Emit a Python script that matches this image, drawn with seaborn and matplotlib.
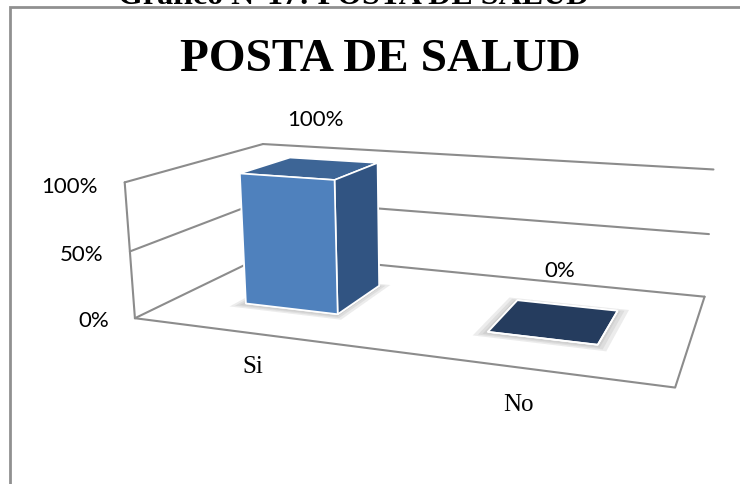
import numpy as np
import pandas as pd
import seaborn as sns
import matplotlib.pyplot as plt
from matplotlib.patches import Rectangle

# data
categorias = ["Si", "No"]
porcentajes = [1.0, 0.0]
ticks = [0.0, 0.5, 1.0]
tick_labels = ["0%", "50%", "100%"]

df = pd.DataFrame({"respuesta": categorias, "valor": porcentajes})

sns.set_theme(style="white")
plt.rcParams["font.family"] = ["Lato", "DejaVu Sans"]
plt.rcParams["text.color"] = "black"

# excel-ish blues: front, top, side, flat top
azul = sns.color_palette(["#4F81BD", "#3D6596", "#315482", "#253C5E"])
gris = "#8C8C8C"

fig = plt.figure(figsize=(7.4, 4.84), dpi=100)
ax = fig.add_axes([53 / 740, -7 / 484, 1, 1], projection="3d", computed_zorder=False)
ax.set_proj_type("persp", focal_length=0.38)
ax.view_init(elev=14, azim=-70)
ax.set_box_aspect((4.6, 2.35, 1.2), zoom=1.2)

n = len(df)
xs = np.arange(n) + 0.5
ax.set_xlim(0, n)
ax.set_ylim(0, 1)
ax.set_zlim(0, 1)
ax.set_axis_off()

# walls and floor
lk = dict(color=gris, lw=1.5, zorder=1, clip_on=False)
for z in ticks:
    ax.plot([0, 0], [0, 1], [z, z], **lk)
    ax.plot([0, n], [1, 1], [z, z], **lk)
ax.plot([0, 0], [0, 0], [0, ticks[-1]], **lk)
ax.plot([0, n, n], [0, 0, 1], [0, 0, 0], **lk)

w = 0.4
y0 = 0.5 - w / 2

# soft shadow on the floor
for e in [0.04, 0.025, 0.012]:
    sombra = ax.bar3d(xs - w / 2 - e, np.full(n, y0 - e - 0.015), np.zeros(n),
                      w + 2 * e, w + 2 * e, np.zeros(n), color="#A0A0A0", alpha=0.1,
                      shade=False, edgecolor="none", zorder=2)
    sombra.set_clip_on(False)

# bars
colores = []
for v in df["valor"]:
    top = azul[1] if v > 0 else azul[3]
    bottom = azul[0] if v > 0 else azul[3]
    # -z, +z, -y, +y, -x, +x
    colores += [bottom, top, azul[0], azul[0], azul[2], azul[2]]
barras = ax.bar3d(xs - w / 2, np.full(n, y0), np.zeros(n), w, w, df["valor"],
                  color=colores, shade=False, edgecolor="white", linewidth=1.2, zorder=3)
barras.set_clip_on(False)

# value labels
for x, v in zip(xs, df["valor"]):
    ax.text(x, 0.55, v + 0.35, f"{v:.0%}", ha="center", va="center", fontsize=16, zorder=5)

# tick labels
for z, t in zip(ticks, tick_labels):
    ax.text(-0.12, 0, z - 0.05, t, ha="right", va="center", fontsize=16, zorder=5)

# category labels
for x, c in zip(xs, df["respuesta"]):
    ax.text(x, 0, -0.25, c, ha="center", va="center", fontsize=18,
            family="Liberation Serif", zorder=5)

fig.text(380 / 740, 1 - 60 / 484, "POSTA DE SALUD", ha="center", va="center",
         fontsize=34, fontweight="bold", family="Liberation Serif")
fig.text(354 / 740, 1 - 4 / 484, "Gráfico N°17: POSTA DE SALUD", ha="center", va="baseline",
         fontsize=23, fontweight="bold", family="Liberation Serif")

# chart border
fig.patches.append(Rectangle((10 / 740, -0.1), 1, 1 - 7 / 484 + 0.1, transform=fig.transFigure,
                             fill=False, edgecolor="#909090", lw=2))

fig.savefig("out.png", dpi=100)
